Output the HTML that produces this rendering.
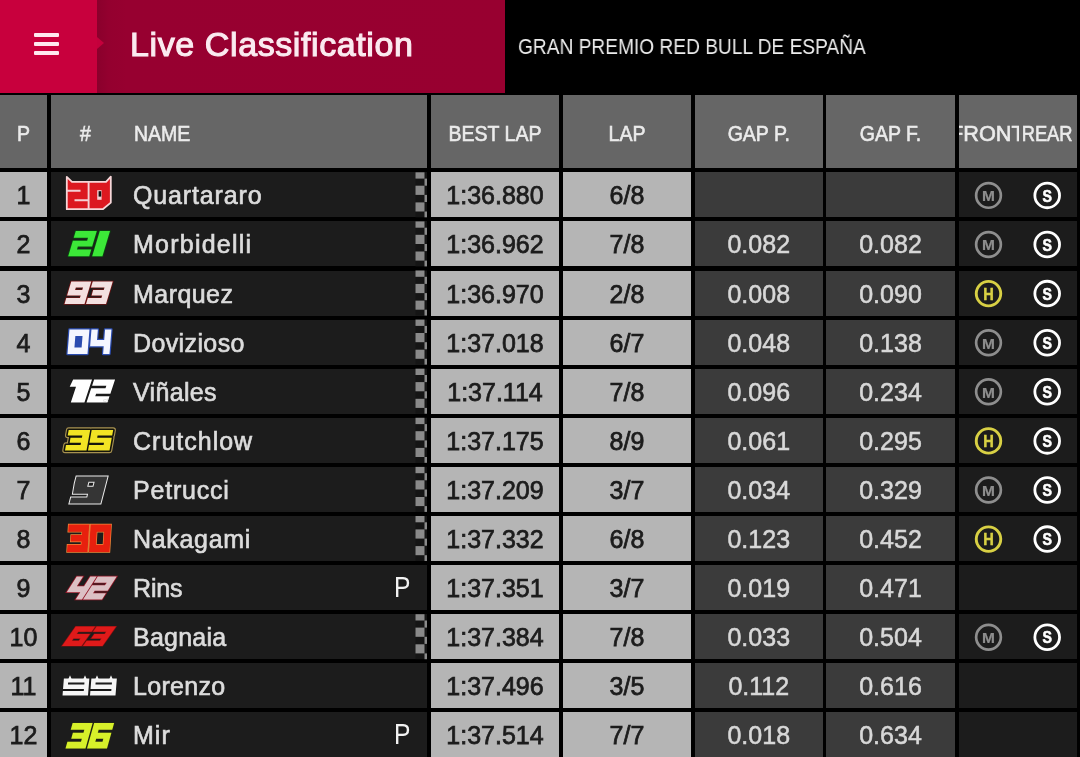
<!DOCTYPE html>
<html><head><meta charset="utf-8">
<style>
html,body{margin:0;padding:0;width:1080px;height:757px;overflow:hidden;background:#000;font-family:"Liberation Sans",sans-serif;}
.topbar{position:absolute;left:0;top:0;width:1080px;height:93px;background:#000;}
.red1{position:absolute;left:0;top:0;width:96.5px;height:93px;background:#c8003d;}
.red2{position:absolute;left:96.5px;top:0;width:408.5px;height:93px;background:linear-gradient(to right,#8a002c 0px,#94002f 12px,#970030 30px,#980030 100%);}
.notch{position:absolute;left:96.5px;top:36.5px;width:0;height:0;border-top:6.8px solid transparent;border-bottom:6.8px solid transparent;border-left:7px solid #c4003c;}
.burger{position:absolute;left:34px;width:25px;height:4px;background:#ffe8ef;border-radius:1px;}
.title{will-change:transform;position:absolute;left:130px;top:25px;font-size:34px;color:#fbeaf0;white-space:nowrap;-webkit-text-stroke:1.1px #fbeaf0;letter-spacing:0.6px}
.sub{will-change:transform;position:absolute;left:517.5px;top:33.5px;font-size:22px;color:#ececec;white-space:nowrap;transform:scaleX(0.87);transform-origin:0 0;}
.c{position:absolute;overflow:hidden;will-change:transform;}
.hd{background:#666666;}
.lt{background:#b5b5b5;}
.dkc{background:#1c1c1c;}
.gc{background:#3b3b3b;}
.ht{position:absolute;top:1.5px;line-height:73px;font-size:21.7px;color:#ebebeb;white-space:nowrap;-webkit-text-stroke:0.6px #ebebeb;transform:scaleX(0.9);transform-origin:50% 50%;}
.dt{position:absolute;top:0.5px;line-height:45px;font-size:25px;white-space:nowrap;}
.dk{color:#1c1c1c;-webkit-text-stroke:0.75px #1c1c1c;}
.wt{color:#d8d8d8;-webkit-text-stroke:0.55px #d8d8d8;}
.nm{top:1.2px;color:#dcdcdc;letter-spacing:0.5px;-webkit-text-stroke:0.65px #dcdcdc;}
.ctr{left:0;width:100%;text-align:center;}
.pit{left:343px;top:0px;color:#f2f2f2;font-size:29px;transform:scaleX(0.85);transform-origin:0 50%;}
.tylM{font:bold 15.5px "Liberation Sans",sans-serif;}
.tylH{font:bold 17px "Liberation Sans",sans-serif;}
.tylS{font:bold 16.5px "Liberation Sans",sans-serif;}
</style></head><body>
<div class="topbar"></div>
<div class="red1"></div><div class="red2"></div><div class="notch"></div>
<div class="burger" style="top:33px"></div><div class="burger" style="top:42px"></div><div class="burger" style="top:51px"></div>
<div class="title">Live Classification</div>
<div class="sub">GRAN PREMIO RED BULL DE ESPAÑA</div>
<div class="c hd" style="left:0px;top:95.00px;width:47px;height:73px"><span class="ht ctr">P</span></div>
<div class="c hd" style="left:51px;top:95.00px;width:376px;height:73px"><span class="ht" style="left:29px;transform-origin:0 50%">#</span><span class="ht" style="left:83px;transform-origin:0 50%">NAME</span></div>
<div class="c hd" style="left:431px;top:95.00px;width:128px;height:73px"><span class="ht ctr">BEST LAP</span></div>
<div class="c hd" style="left:563px;top:95.00px;width:128px;height:73px"><span class="ht ctr">LAP</span></div>
<div class="c hd" style="left:695px;top:95.00px;width:127.5px;height:73px"><span class="ht ctr">GAP P.</span></div>
<div class="c hd" style="left:826px;top:95.00px;width:129px;height:73px"><span class="ht ctr">GAP F.</span></div>
<div class="c hd" style="left:958.5px;top:95.00px;width:118.0px;height:73px"><div style="position:absolute;left:0;top:0;width:60px;height:73px;overflow:hidden"><span class="ht" style="left:-9px;width:71px;text-align:center;transform:none">FRONT</span></div><div style="position:absolute;left:59px;top:0;width:59px;height:73px;overflow:hidden"><span class="ht" style="left:-1px;width:60px;text-align:center;transform:scaleX(0.845)">REAR</span></div></div>
<div class="c lt" style="left:0px;top:172.30px;width:47px;height:45.0px"><span class="dt dk ctr">1</span></div>
<div class="c dkc" style="left:51px;top:172.30px;width:376px;height:45.0px"><span class="dt nm" style="left:82px;letter-spacing:0.86px">Quartararo</span></div>
<div class="c lt" style="left:431px;top:172.30px;width:128px;height:45.0px"><span class="dt dk ctr">1:36.880</span></div>
<div class="c lt" style="left:563px;top:172.30px;width:128px;height:45.0px"><span class="dt dk ctr">6/8</span></div>
<div class="c gc" style="left:695px;top:172.30px;width:127.5px;height:45.0px"><span class="dt wt ctr"></span></div>
<div class="c gc" style="left:826px;top:172.30px;width:129px;height:45.0px"><span class="dt wt ctr"></span></div>
<div class="c dkc" style="left:958.5px;top:172.30px;width:118.0px;height:45.0px"></div>
<div class="c lt" style="left:0px;top:221.40px;width:47px;height:45.0px"><span class="dt dk ctr">2</span></div>
<div class="c dkc" style="left:51px;top:221.40px;width:376px;height:45.0px"><span class="dt nm" style="left:82px;letter-spacing:1.24px">Morbidelli</span></div>
<div class="c lt" style="left:431px;top:221.40px;width:128px;height:45.0px"><span class="dt dk ctr">1:36.962</span></div>
<div class="c lt" style="left:563px;top:221.40px;width:128px;height:45.0px"><span class="dt dk ctr">7/8</span></div>
<div class="c gc" style="left:695px;top:221.40px;width:127.5px;height:45.0px"><span class="dt wt ctr">0.082</span></div>
<div class="c gc" style="left:826px;top:221.40px;width:129px;height:45.0px"><span class="dt wt ctr">0.082</span></div>
<div class="c dkc" style="left:958.5px;top:221.40px;width:118.0px;height:45.0px"></div>
<div class="c lt" style="left:0px;top:270.50px;width:47px;height:45.0px"><span class="dt dk ctr">3</span></div>
<div class="c dkc" style="left:51px;top:270.50px;width:376px;height:45.0px"><span class="dt nm" style="left:82px;letter-spacing:0.45px">Marquez</span></div>
<div class="c lt" style="left:431px;top:270.50px;width:128px;height:45.0px"><span class="dt dk ctr">1:36.970</span></div>
<div class="c lt" style="left:563px;top:270.50px;width:128px;height:45.0px"><span class="dt dk ctr">2/8</span></div>
<div class="c gc" style="left:695px;top:270.50px;width:127.5px;height:45.0px"><span class="dt wt ctr">0.008</span></div>
<div class="c gc" style="left:826px;top:270.50px;width:129px;height:45.0px"><span class="dt wt ctr">0.090</span></div>
<div class="c dkc" style="left:958.5px;top:270.50px;width:118.0px;height:45.0px"></div>
<div class="c lt" style="left:0px;top:319.60px;width:47px;height:45.0px"><span class="dt dk ctr">4</span></div>
<div class="c dkc" style="left:51px;top:319.60px;width:376px;height:45.0px"><span class="dt nm" style="left:82px;letter-spacing:0.38px">Dovizioso</span></div>
<div class="c lt" style="left:431px;top:319.60px;width:128px;height:45.0px"><span class="dt dk ctr">1:37.018</span></div>
<div class="c lt" style="left:563px;top:319.60px;width:128px;height:45.0px"><span class="dt dk ctr">6/7</span></div>
<div class="c gc" style="left:695px;top:319.60px;width:127.5px;height:45.0px"><span class="dt wt ctr">0.048</span></div>
<div class="c gc" style="left:826px;top:319.60px;width:129px;height:45.0px"><span class="dt wt ctr">0.138</span></div>
<div class="c dkc" style="left:958.5px;top:319.60px;width:118.0px;height:45.0px"></div>
<div class="c lt" style="left:0px;top:368.70px;width:47px;height:45.0px"><span class="dt dk ctr">5</span></div>
<div class="c dkc" style="left:51px;top:368.70px;width:376px;height:45.0px"><span class="dt nm" style="left:82px;letter-spacing:0.33px">Viñales</span></div>
<div class="c lt" style="left:431px;top:368.70px;width:128px;height:45.0px"><span class="dt dk ctr">1:37.114</span></div>
<div class="c lt" style="left:563px;top:368.70px;width:128px;height:45.0px"><span class="dt dk ctr">7/8</span></div>
<div class="c gc" style="left:695px;top:368.70px;width:127.5px;height:45.0px"><span class="dt wt ctr">0.096</span></div>
<div class="c gc" style="left:826px;top:368.70px;width:129px;height:45.0px"><span class="dt wt ctr">0.234</span></div>
<div class="c dkc" style="left:958.5px;top:368.70px;width:118.0px;height:45.0px"></div>
<div class="c lt" style="left:0px;top:417.80px;width:47px;height:45.0px"><span class="dt dk ctr">6</span></div>
<div class="c dkc" style="left:51px;top:417.80px;width:376px;height:45.0px"><span class="dt nm" style="left:82px;letter-spacing:1.0px">Crutchlow</span></div>
<div class="c lt" style="left:431px;top:417.80px;width:128px;height:45.0px"><span class="dt dk ctr">1:37.175</span></div>
<div class="c lt" style="left:563px;top:417.80px;width:128px;height:45.0px"><span class="dt dk ctr">8/9</span></div>
<div class="c gc" style="left:695px;top:417.80px;width:127.5px;height:45.0px"><span class="dt wt ctr">0.061</span></div>
<div class="c gc" style="left:826px;top:417.80px;width:129px;height:45.0px"><span class="dt wt ctr">0.295</span></div>
<div class="c dkc" style="left:958.5px;top:417.80px;width:118.0px;height:45.0px"></div>
<div class="c lt" style="left:0px;top:466.90px;width:47px;height:45.0px"><span class="dt dk ctr">7</span></div>
<div class="c dkc" style="left:51px;top:466.90px;width:376px;height:45.0px"><span class="dt nm" style="left:82px;letter-spacing:0.79px">Petrucci</span></div>
<div class="c lt" style="left:431px;top:466.90px;width:128px;height:45.0px"><span class="dt dk ctr">1:37.209</span></div>
<div class="c lt" style="left:563px;top:466.90px;width:128px;height:45.0px"><span class="dt dk ctr">3/7</span></div>
<div class="c gc" style="left:695px;top:466.90px;width:127.5px;height:45.0px"><span class="dt wt ctr">0.034</span></div>
<div class="c gc" style="left:826px;top:466.90px;width:129px;height:45.0px"><span class="dt wt ctr">0.329</span></div>
<div class="c dkc" style="left:958.5px;top:466.90px;width:118.0px;height:45.0px"></div>
<div class="c lt" style="left:0px;top:516.00px;width:47px;height:45.0px"><span class="dt dk ctr">8</span></div>
<div class="c dkc" style="left:51px;top:516.00px;width:376px;height:45.0px"><span class="dt nm" style="left:82px;letter-spacing:0.69px">Nakagami</span></div>
<div class="c lt" style="left:431px;top:516.00px;width:128px;height:45.0px"><span class="dt dk ctr">1:37.332</span></div>
<div class="c lt" style="left:563px;top:516.00px;width:128px;height:45.0px"><span class="dt dk ctr">6/8</span></div>
<div class="c gc" style="left:695px;top:516.00px;width:127.5px;height:45.0px"><span class="dt wt ctr">0.123</span></div>
<div class="c gc" style="left:826px;top:516.00px;width:129px;height:45.0px"><span class="dt wt ctr">0.452</span></div>
<div class="c dkc" style="left:958.5px;top:516.00px;width:118.0px;height:45.0px"></div>
<div class="c lt" style="left:0px;top:565.10px;width:47px;height:45.0px"><span class="dt dk ctr">9</span></div>
<div class="c dkc" style="left:51px;top:565.10px;width:376px;height:45.0px"><span class="dt nm" style="left:82px;letter-spacing:-0.17px">Rins</span><span class="dt pit">P</span></div>
<div class="c lt" style="left:431px;top:565.10px;width:128px;height:45.0px"><span class="dt dk ctr">1:37.351</span></div>
<div class="c lt" style="left:563px;top:565.10px;width:128px;height:45.0px"><span class="dt dk ctr">3/7</span></div>
<div class="c gc" style="left:695px;top:565.10px;width:127.5px;height:45.0px"><span class="dt wt ctr">0.019</span></div>
<div class="c gc" style="left:826px;top:565.10px;width:129px;height:45.0px"><span class="dt wt ctr">0.471</span></div>
<div class="c dkc" style="left:958.5px;top:565.10px;width:118.0px;height:45.0px"></div>
<div class="c lt" style="left:0px;top:614.20px;width:47px;height:45.0px"><span class="dt dk ctr">10</span></div>
<div class="c dkc" style="left:51px;top:614.20px;width:376px;height:45.0px"><span class="dt nm" style="left:82px;letter-spacing:0.23px">Bagnaia</span></div>
<div class="c lt" style="left:431px;top:614.20px;width:128px;height:45.0px"><span class="dt dk ctr">1:37.384</span></div>
<div class="c lt" style="left:563px;top:614.20px;width:128px;height:45.0px"><span class="dt dk ctr">7/8</span></div>
<div class="c gc" style="left:695px;top:614.20px;width:127.5px;height:45.0px"><span class="dt wt ctr">0.033</span></div>
<div class="c gc" style="left:826px;top:614.20px;width:129px;height:45.0px"><span class="dt wt ctr">0.504</span></div>
<div class="c dkc" style="left:958.5px;top:614.20px;width:118.0px;height:45.0px"></div>
<div class="c lt" style="left:0px;top:663.30px;width:47px;height:45.0px"><span class="dt dk ctr">11</span></div>
<div class="c dkc" style="left:51px;top:663.30px;width:376px;height:45.0px"><span class="dt nm" style="left:82px;letter-spacing:0.3px">Lorenzo</span></div>
<div class="c lt" style="left:431px;top:663.30px;width:128px;height:45.0px"><span class="dt dk ctr">1:37.496</span></div>
<div class="c lt" style="left:563px;top:663.30px;width:128px;height:45.0px"><span class="dt dk ctr">3/5</span></div>
<div class="c gc" style="left:695px;top:663.30px;width:127.5px;height:45.0px"><span class="dt wt ctr">0.112</span></div>
<div class="c gc" style="left:826px;top:663.30px;width:129px;height:45.0px"><span class="dt wt ctr">0.616</span></div>
<div class="c dkc" style="left:958.5px;top:663.30px;width:118.0px;height:45.0px"></div>
<div class="c lt" style="left:0px;top:712.40px;width:47px;height:45.0px"><span class="dt dk ctr">12</span></div>
<div class="c dkc" style="left:51px;top:712.40px;width:376px;height:45.0px"><span class="dt nm" style="left:82px;letter-spacing:1.0px">Mir</span><span class="dt pit">P</span></div>
<div class="c lt" style="left:431px;top:712.40px;width:128px;height:45.0px"><span class="dt dk ctr">1:37.514</span></div>
<div class="c lt" style="left:563px;top:712.40px;width:128px;height:45.0px"><span class="dt dk ctr">7/7</span></div>
<div class="c gc" style="left:695px;top:712.40px;width:127.5px;height:45.0px"><span class="dt wt ctr">0.018</span></div>
<div class="c gc" style="left:826px;top:712.40px;width:129px;height:45.0px"><span class="dt wt ctr">0.634</span></div>
<div class="c dkc" style="left:958.5px;top:712.40px;width:118.0px;height:45.0px"></div>
<svg style="position:absolute;left:0;top:0;will-change:transform" width="1080" height="757"><rect x="415.5" y="172.30" width="11.5" height="45.0" fill="#151515"/><rect x="415.5" y="172.30" width="9" height="6.30" fill="#8a8a8a"/><rect x="415.5" y="185.70" width="9" height="9.20" fill="#8a8a8a"/><rect x="415.5" y="202.40" width="9" height="9.10" fill="#8a8a8a"/><rect x="424.5" y="178.60" width="2.5" height="7.10" fill="#8a8a8a"/><rect x="424.5" y="194.90" width="2.5" height="7.10" fill="#8a8a8a"/><rect x="424.5" y="211.50" width="2.5" height="5.80" fill="#8a8a8a"/><circle cx="988.5" cy="195.40" r="12.35" fill="none" stroke="#8e8e8e" stroke-width="2.7"/><text transform="translate(988.5,201.30) scale(1,1)" text-anchor="middle" class="tylM" fill="#8e8e8e" stroke="#8e8e8e" stroke-width="0.2">M</text><circle cx="1047.2" cy="195.40" r="12.35" fill="none" stroke="#ffffff" stroke-width="2.8"/><text transform="translate(1047.2,201.50) scale(0.86,1)" text-anchor="middle" class="tylS" fill="#ffffff" stroke="#ffffff" stroke-width="0.6">S</text><rect x="415.5" y="221.40" width="11.5" height="45.0" fill="#151515"/><rect x="415.5" y="221.40" width="9" height="6.30" fill="#8a8a8a"/><rect x="415.5" y="234.80" width="9" height="9.20" fill="#8a8a8a"/><rect x="415.5" y="251.50" width="9" height="9.10" fill="#8a8a8a"/><rect x="424.5" y="227.70" width="2.5" height="7.10" fill="#8a8a8a"/><rect x="424.5" y="244.00" width="2.5" height="7.10" fill="#8a8a8a"/><rect x="424.5" y="260.60" width="2.5" height="5.80" fill="#8a8a8a"/><circle cx="988.5" cy="244.50" r="12.35" fill="none" stroke="#8e8e8e" stroke-width="2.7"/><text transform="translate(988.5,250.40) scale(1,1)" text-anchor="middle" class="tylM" fill="#8e8e8e" stroke="#8e8e8e" stroke-width="0.2">M</text><circle cx="1047.2" cy="244.50" r="12.35" fill="none" stroke="#ffffff" stroke-width="2.8"/><text transform="translate(1047.2,250.60) scale(0.86,1)" text-anchor="middle" class="tylS" fill="#ffffff" stroke="#ffffff" stroke-width="0.6">S</text><rect x="415.5" y="270.50" width="11.5" height="45.0" fill="#151515"/><rect x="415.5" y="270.50" width="9" height="6.30" fill="#8a8a8a"/><rect x="415.5" y="283.90" width="9" height="9.20" fill="#8a8a8a"/><rect x="415.5" y="300.60" width="9" height="9.10" fill="#8a8a8a"/><rect x="424.5" y="276.80" width="2.5" height="7.10" fill="#8a8a8a"/><rect x="424.5" y="293.10" width="2.5" height="7.10" fill="#8a8a8a"/><rect x="424.5" y="309.70" width="2.5" height="5.80" fill="#8a8a8a"/><circle cx="988.5" cy="293.60" r="12.25" fill="none" stroke="#d8d044" stroke-width="2.9"/><text transform="translate(988.5,299.50) scale(0.86,1)" text-anchor="middle" class="tylH" fill="#d8d044" stroke="#d8d044" stroke-width="0.5">H</text><circle cx="1047.2" cy="293.60" r="12.35" fill="none" stroke="#ffffff" stroke-width="2.8"/><text transform="translate(1047.2,299.70) scale(0.86,1)" text-anchor="middle" class="tylS" fill="#ffffff" stroke="#ffffff" stroke-width="0.6">S</text><rect x="415.5" y="319.60" width="11.5" height="45.0" fill="#151515"/><rect x="415.5" y="319.60" width="9" height="6.30" fill="#8a8a8a"/><rect x="415.5" y="333.00" width="9" height="9.20" fill="#8a8a8a"/><rect x="415.5" y="349.70" width="9" height="9.10" fill="#8a8a8a"/><rect x="424.5" y="325.90" width="2.5" height="7.10" fill="#8a8a8a"/><rect x="424.5" y="342.20" width="2.5" height="7.10" fill="#8a8a8a"/><rect x="424.5" y="358.80" width="2.5" height="5.80" fill="#8a8a8a"/><circle cx="988.5" cy="342.70" r="12.35" fill="none" stroke="#8e8e8e" stroke-width="2.7"/><text transform="translate(988.5,348.60) scale(1,1)" text-anchor="middle" class="tylM" fill="#8e8e8e" stroke="#8e8e8e" stroke-width="0.2">M</text><circle cx="1047.2" cy="342.70" r="12.35" fill="none" stroke="#ffffff" stroke-width="2.8"/><text transform="translate(1047.2,348.80) scale(0.86,1)" text-anchor="middle" class="tylS" fill="#ffffff" stroke="#ffffff" stroke-width="0.6">S</text><rect x="415.5" y="368.70" width="11.5" height="45.0" fill="#151515"/><rect x="415.5" y="368.70" width="9" height="6.30" fill="#8a8a8a"/><rect x="415.5" y="382.10" width="9" height="9.20" fill="#8a8a8a"/><rect x="415.5" y="398.80" width="9" height="9.10" fill="#8a8a8a"/><rect x="424.5" y="375.00" width="2.5" height="7.10" fill="#8a8a8a"/><rect x="424.5" y="391.30" width="2.5" height="7.10" fill="#8a8a8a"/><rect x="424.5" y="407.90" width="2.5" height="5.80" fill="#8a8a8a"/><circle cx="988.5" cy="391.80" r="12.35" fill="none" stroke="#8e8e8e" stroke-width="2.7"/><text transform="translate(988.5,397.70) scale(1,1)" text-anchor="middle" class="tylM" fill="#8e8e8e" stroke="#8e8e8e" stroke-width="0.2">M</text><circle cx="1047.2" cy="391.80" r="12.35" fill="none" stroke="#ffffff" stroke-width="2.8"/><text transform="translate(1047.2,397.90) scale(0.86,1)" text-anchor="middle" class="tylS" fill="#ffffff" stroke="#ffffff" stroke-width="0.6">S</text><rect x="415.5" y="417.80" width="11.5" height="45.0" fill="#151515"/><rect x="415.5" y="417.80" width="9" height="6.30" fill="#8a8a8a"/><rect x="415.5" y="431.20" width="9" height="9.20" fill="#8a8a8a"/><rect x="415.5" y="447.90" width="9" height="9.10" fill="#8a8a8a"/><rect x="424.5" y="424.10" width="2.5" height="7.10" fill="#8a8a8a"/><rect x="424.5" y="440.40" width="2.5" height="7.10" fill="#8a8a8a"/><rect x="424.5" y="457.00" width="2.5" height="5.80" fill="#8a8a8a"/><circle cx="988.5" cy="440.90" r="12.25" fill="none" stroke="#d8d044" stroke-width="2.9"/><text transform="translate(988.5,446.80) scale(0.86,1)" text-anchor="middle" class="tylH" fill="#d8d044" stroke="#d8d044" stroke-width="0.5">H</text><circle cx="1047.2" cy="440.90" r="12.35" fill="none" stroke="#ffffff" stroke-width="2.8"/><text transform="translate(1047.2,447.00) scale(0.86,1)" text-anchor="middle" class="tylS" fill="#ffffff" stroke="#ffffff" stroke-width="0.6">S</text><rect x="415.5" y="466.90" width="11.5" height="45.0" fill="#151515"/><rect x="415.5" y="466.90" width="9" height="6.30" fill="#8a8a8a"/><rect x="415.5" y="480.30" width="9" height="9.20" fill="#8a8a8a"/><rect x="415.5" y="497.00" width="9" height="9.10" fill="#8a8a8a"/><rect x="424.5" y="473.20" width="2.5" height="7.10" fill="#8a8a8a"/><rect x="424.5" y="489.50" width="2.5" height="7.10" fill="#8a8a8a"/><rect x="424.5" y="506.10" width="2.5" height="5.80" fill="#8a8a8a"/><circle cx="988.5" cy="490.00" r="12.35" fill="none" stroke="#8e8e8e" stroke-width="2.7"/><text transform="translate(988.5,495.90) scale(1,1)" text-anchor="middle" class="tylM" fill="#8e8e8e" stroke="#8e8e8e" stroke-width="0.2">M</text><circle cx="1047.2" cy="490.00" r="12.35" fill="none" stroke="#ffffff" stroke-width="2.8"/><text transform="translate(1047.2,496.10) scale(0.86,1)" text-anchor="middle" class="tylS" fill="#ffffff" stroke="#ffffff" stroke-width="0.6">S</text><rect x="415.5" y="516.00" width="11.5" height="45.0" fill="#151515"/><rect x="415.5" y="516.00" width="9" height="6.30" fill="#8a8a8a"/><rect x="415.5" y="529.40" width="9" height="9.20" fill="#8a8a8a"/><rect x="415.5" y="546.10" width="9" height="9.10" fill="#8a8a8a"/><rect x="424.5" y="522.30" width="2.5" height="7.10" fill="#8a8a8a"/><rect x="424.5" y="538.60" width="2.5" height="7.10" fill="#8a8a8a"/><rect x="424.5" y="555.20" width="2.5" height="5.80" fill="#8a8a8a"/><circle cx="988.5" cy="539.10" r="12.25" fill="none" stroke="#d8d044" stroke-width="2.9"/><text transform="translate(988.5,545.00) scale(0.86,1)" text-anchor="middle" class="tylH" fill="#d8d044" stroke="#d8d044" stroke-width="0.5">H</text><circle cx="1047.2" cy="539.10" r="12.35" fill="none" stroke="#ffffff" stroke-width="2.8"/><text transform="translate(1047.2,545.20) scale(0.86,1)" text-anchor="middle" class="tylS" fill="#ffffff" stroke="#ffffff" stroke-width="0.6">S</text><rect x="415.5" y="614.20" width="11.5" height="45.0" fill="#151515"/><rect x="415.5" y="614.20" width="9" height="6.30" fill="#8a8a8a"/><rect x="415.5" y="627.60" width="9" height="9.20" fill="#8a8a8a"/><rect x="415.5" y="644.30" width="9" height="9.10" fill="#8a8a8a"/><rect x="424.5" y="620.50" width="2.5" height="7.10" fill="#8a8a8a"/><rect x="424.5" y="636.80" width="2.5" height="7.10" fill="#8a8a8a"/><rect x="424.5" y="653.40" width="2.5" height="5.80" fill="#8a8a8a"/><circle cx="988.5" cy="637.30" r="12.35" fill="none" stroke="#8e8e8e" stroke-width="2.7"/><text transform="translate(988.5,643.20) scale(1,1)" text-anchor="middle" class="tylM" fill="#8e8e8e" stroke="#8e8e8e" stroke-width="0.2">M</text><circle cx="1047.2" cy="637.30" r="12.35" fill="none" stroke="#ffffff" stroke-width="2.8"/><text transform="translate(1047.2,643.40) scale(0.86,1)" text-anchor="middle" class="tylS" fill="#ffffff" stroke="#ffffff" stroke-width="0.6">S</text></svg>
<svg style="position:absolute;left:0;top:0" width="1080" height="757"><path d="M66.80,176.80 L72.00,181.80 L106.00,181.80 L110.80,176.60 L110.80,202.60 L102.80,209.20 L66.80,209.20Z" fill="#dc1820" stroke="#f6d6d8" stroke-width="1.8" stroke-linejoin="round"/><path d="M67,190.8 H80.5 M74.5,200.2 H88.5 M88.6,182 V209" stroke="#f4d0d4" stroke-width="1.9" fill="none"/><rect x="97.2" y="190.2" width="4.4" height="9.6" fill="#f4d0d4"/><rect x="98.6" y="191.2" width="2.6" height="5.4" fill="#111"/><path d="M75.79,231.00 L96.79,231.00 L92.11,246.60 L77.83,246.60 L76.94,249.55 L91.22,249.55 L89.20,256.30 L68.20,256.30 L72.88,240.70 L87.16,240.70 L88.05,237.75 L73.77,237.75Z M99.79,231.00 L109.99,231.00 L102.40,256.30 L92.20,256.30Z" fill="#3ce838" stroke="#0a4a10" stroke-width="1.6" stroke-linejoin="round" paint-order="stroke" fill-rule="evenodd"/><path d="M71.25,281.50 L91.25,281.50 L84.50,304.00 L64.50,304.00 L66.30,298.00 L79.90,298.00 L80.69,295.38 L67.09,295.38Z M75.85,287.50 L83.05,287.50 L82.26,290.12 L75.06,290.12Z M92.75,281.50 L112.75,281.50 L106.00,304.00 L86.00,304.00 L87.80,298.00 L101.40,298.00 L102.19,295.38 L91.59,295.38 L93.16,290.12 L103.76,290.12 L104.55,287.50 L90.95,287.50Z" fill="#f3e0e0" stroke="#6e1414" stroke-width="1.6" paint-order="stroke" fill-rule="evenodd"/><path d="M69.46,329.50 L89.46,329.50 L87.50,354.00 L67.50,354.00Z M75.34,336.03 L82.54,336.03 L81.62,347.47 L74.42,347.47Z M91.46,329.50 L97.86,329.50 L97.03,339.91 L104.23,339.91 L105.06,329.50 L111.46,329.50 L109.50,354.00 L103.10,354.00 L103.72,346.24 L90.12,346.24Z" fill="#2b4cb0" stroke="#2b4cb0" stroke-width="2.4" stroke-linejoin="round"/><path d="M69.46,329.50 L89.46,329.50 L87.50,354.00 L67.50,354.00Z M75.34,336.03 L82.54,336.03 L81.62,347.47 L74.42,347.47Z M91.46,329.50 L97.86,329.50 L97.03,339.91 L104.23,339.91 L105.06,329.50 L111.46,329.50 L109.50,354.00 L103.10,354.00 L103.72,346.24 L90.12,346.24Z" fill="#f4f6ff" fill-rule="evenodd"/><path d="M73.14,379.50 L92.04,379.50 L84.45,402.50 L70.80,402.50 L75.99,386.78 L69.69,386.78Z M94.09,379.50 L115.09,379.50 L110.41,393.68 L96.13,393.68 L95.24,396.37 L109.52,396.37 L107.50,402.50 L86.50,402.50 L91.18,388.32 L105.46,388.32 L106.35,385.63 L92.07,385.63Z" fill="#ffffff" stroke="#111" stroke-width="0.8" paint-order="stroke" fill-rule="evenodd"/><text x="103" y="402" font-size="6" font-weight="bold" fill="#ddd" font-family="Liberation Sans">ct</text><path d="M68.69,430.00 L90.19,430.00 L86.50,450.50 L65.00,450.50 L65.98,445.03 L80.60,445.03 L81.03,442.64 L69.64,442.64 L70.50,437.86 L81.90,437.86 L82.33,435.47 L67.71,435.47Z M91.69,430.00 L113.19,430.00 L112.21,435.47 L97.59,435.47 L97.16,437.86 L111.78,437.86 L109.50,450.50 L88.00,450.50 L88.98,445.03 L103.60,445.03 L104.03,442.64 L89.41,442.64Z" fill="#1a1a10" stroke="#a89250" stroke-width="5.5" stroke-linejoin="round"/><path d="M68.69,430.00 L90.19,430.00 L86.50,450.50 L65.00,450.50 L65.98,445.03 L80.60,445.03 L81.03,442.64 L69.64,442.64 L70.50,437.86 L81.90,437.86 L82.33,435.47 L67.71,435.47Z M91.69,430.00 L113.19,430.00 L112.21,435.47 L97.59,435.47 L97.16,437.86 L111.78,437.86 L109.50,450.50 L88.00,450.50 L88.98,445.03 L103.60,445.03 L104.03,442.64 L89.41,442.64Z" fill="#1a1a10" stroke="#15150c" stroke-width="3.2" stroke-linejoin="round"/><path d="M68.69,430.00 L90.19,430.00 L86.50,450.50 L65.00,450.50 L65.98,445.03 L80.60,445.03 L81.03,442.64 L69.64,442.64 L70.50,437.86 L81.90,437.86 L82.33,435.47 L67.71,435.47Z M91.69,430.00 L113.19,430.00 L112.21,435.47 L97.59,435.47 L97.16,437.86 L111.78,437.86 L109.50,450.50 L88.00,450.50 L88.98,445.03 L103.60,445.03 L104.03,442.64 L89.41,442.64Z" fill="#f2e424" fill-rule="evenodd"/><path d="M76.52,476.50 L107.52,476.50 L100.50,503.50 L69.50,503.50 L71.08,497.43 L87.20,497.43 L88.14,493.82 L72.95,493.82 L74.77,483.25Z M88.50,481.68 L94.70,481.68 L93.36,486.85 L87.16,486.85Z" fill="#353535" stroke="#ececec" stroke-width="2" paint-order="stroke" fill-rule="evenodd"/><path d="M68.65,524.50 L89.15,524.50 L87.50,552.00 L67.00,552.00 L67.44,544.67 L81.38,544.67 L81.57,541.46 L70.71,541.46 L71.09,535.04 L81.96,535.04 L82.15,531.83 L68.21,531.83Z M90.65,524.50 L111.15,524.50 L109.50,552.00 L89.00,552.00Z M96.77,531.83 L104.15,531.83 L103.38,544.67 L96.00,544.67Z" fill="#e8200e" stroke="#f08a3a" stroke-width="1.4" paint-order="stroke" fill-rule="evenodd"/><path d="M76.72,576.50 L83.12,576.50 L76.86,586.27 L84.06,586.27 L90.32,576.50 L96.72,576.50 L82.00,599.50 L75.60,599.50 L80.26,592.22 L66.66,592.22Z M97.72,576.50 L116.72,576.50 L107.64,590.68 L94.72,590.68 L93.01,593.37 L105.93,593.37 L102.00,599.50 L83.00,599.50 L92.08,585.32 L105.00,585.32 L106.71,582.63 L93.79,582.63Z" fill="#dcc0c4" stroke="#901424" stroke-width="1.6" paint-order="stroke" fill-rule="evenodd"/><path d="M75.65,626.50 L95.15,626.50 L91.51,631.70 L78.25,631.70 L76.66,633.98 L89.92,633.98 L81.50,646.00 L62.00,646.00Z M73.47,638.52 L80.49,638.52 L78.90,640.80 L71.88,640.80Z M96.65,626.50 L116.15,626.50 L102.50,646.00 L83.00,646.00 L86.64,640.80 L99.90,640.80 L101.49,638.52 L91.16,638.52 L94.34,633.98 L104.68,633.98 L106.27,631.70 L93.01,631.70Z" fill="#e01a1a" stroke="#7a1010" stroke-width="1.2" paint-order="stroke" fill-rule="evenodd"/><path d="M63.86,678.50 L89.36,678.50 L88.00,695.50 L62.50,695.50 L62.86,690.97 L83.77,690.97 L83.93,688.98 L63.02,688.98Z M68.13,682.47 L84.45,682.47 L84.28,684.59 L67.96,684.59Z M91.36,678.50 L116.86,678.50 L115.50,695.50 L90.00,695.50 L90.36,690.97 L111.27,690.97 L111.43,688.98 L90.52,688.98Z M95.63,682.47 L111.95,682.47 L111.78,684.59 L95.46,684.59Z" fill="#f6f6f6" stroke="#111" stroke-width="0.6" paint-order="stroke" fill-rule="evenodd"/><path d="M68.4,679 L70,675.2 L71.6,679Z" fill="#f6f6f6"/><path d="M83.4,679 L85,675.2 L86.6,679Z" fill="#f6f6f6"/><path d="M95.4,679 L97,675.2 L98.6,679Z" fill="#f6f6f6"/><path d="M109.4,679 L111,675.2 L112.6,679Z" fill="#f6f6f6"/><path d="M72.64,723.00 L92.64,723.00 L85.50,748.50 L65.50,748.50 L67.40,741.70 L81.00,741.70 L81.84,738.73 L71.24,738.73 L72.90,732.77 L83.50,732.77 L84.34,729.80 L70.74,729.80Z M94.14,723.00 L114.14,723.00 L112.24,729.80 L98.64,729.80 L97.80,732.77 L111.40,732.77 L107.00,748.50 L87.00,748.50Z M96.14,738.73 L103.34,738.73 L102.50,741.70 L95.30,741.70Z" fill="#d7f02a" stroke="#2a3010" stroke-width="1.0" paint-order="stroke" fill-rule="evenodd"/></svg>
</body></html>
